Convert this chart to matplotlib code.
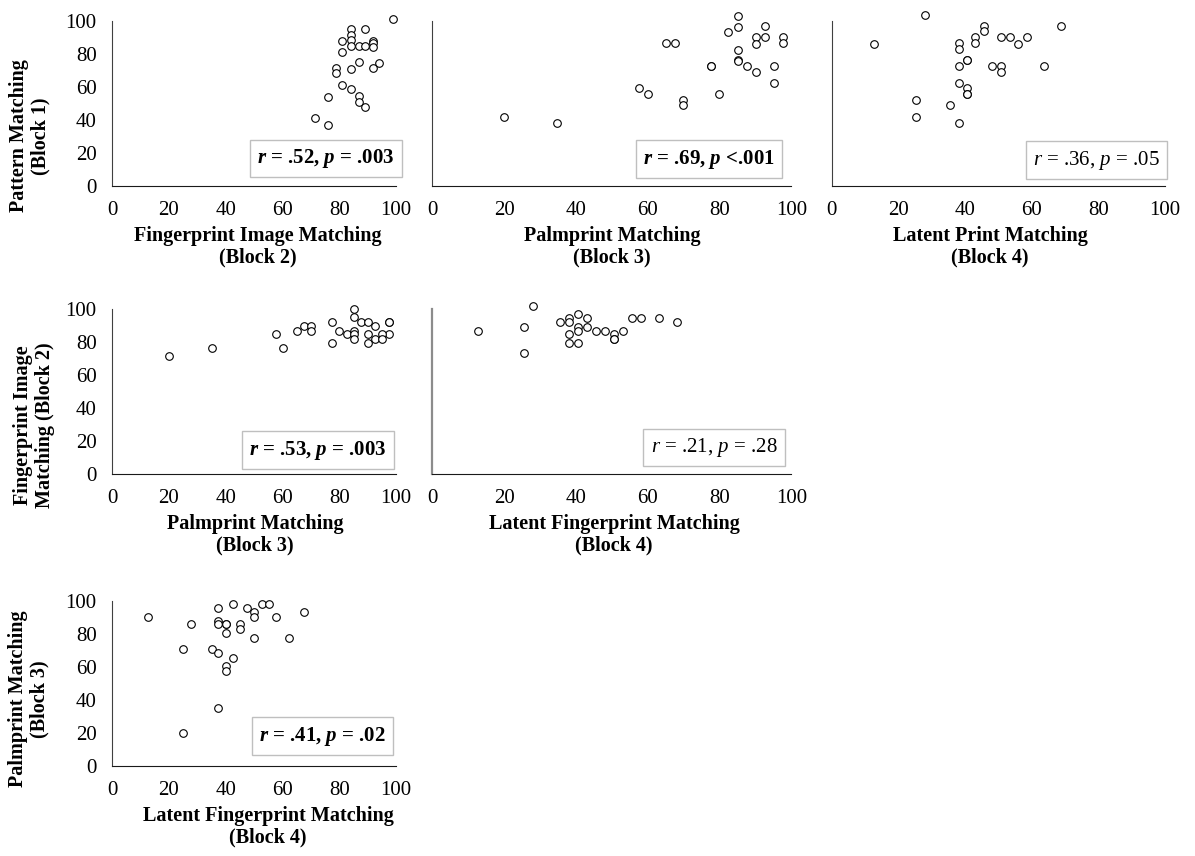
import matplotlib
matplotlib.use("Agg")
import matplotlib.pyplot as plt

plt.rcParams['font.family'] = ['Liberation Serif', 'DejaVu Serif']
plt.rcParams['mathtext.fontset'] = 'custom'
plt.rcParams['mathtext.rm'] = 'Liberation Serif'
plt.rcParams['mathtext.it'] = 'Liberation Serif:italic'
plt.rcParams['mathtext.bf'] = 'Liberation Serif:bold'
plt.rcParams['mathtext.bfit'] = 'Liberation Serif:bold:italic'

# panel 1: fingerprint (block 2) vs pattern (block 1)
p1_x = [99, 84, 89, 84, 81, 84, 92, 92, 84, 87, 89, 92, 81, 87, 94, 92, 84, 79, 79, 81, 84, 87, 76, 87, 89, 71.5, 76]
p1_y = [100.7, 94.7, 94.7, 91.2, 87.8, 88.2, 87.8, 86.2, 84.6, 84.6, 84.6, 84.2, 81.1, 74.7, 74.1, 71.1, 70.7, 71.1,
        68.1, 61.0, 58.6, 54.6, 54.0, 50.9, 47.6, 40.9, 36.9]

# panel 2: palmprint (block 3) vs pattern (block 1)
p2_x = [85.2, 85.2, 92.6, 82.4, 90.1, 92.6, 97.5, 97.5, 90.1, 65.0, 67.5, 85.2, 85.2, 85.2, 77.5, 77.5, 87.5, 90.1,
        95.2, 95.2, 57.4, 59.9, 79.9, 69.9, 69.9, 19.9, 34.8]
p2_y = [103.0, 95.9, 96.7, 92.9, 89.8, 89.8, 89.8, 86.2, 85.6, 86.2, 86.2, 82.2, 76.1, 75.5, 72.5, 72.5, 72.5, 68.7,
        72.5, 62.4, 59.0, 55.4, 55.4, 52.0, 48.9, 41.5, 37.9]

# panel 3: latent print (block 4) vs pattern (block 1)
p3_x = [27.9, 68.8, 45.7, 45.7, 43.1, 43.1, 50.8, 53.4, 58.6, 55.9, 12.6, 38.1, 38.1, 40.7, 40.7, 38.1, 48.2, 50.8,
        50.8, 63.8, 38.1, 40.7, 40.7, 40.7, 25.2, 35.6, 25.2, 38.1]
p3_y = [103.3, 96.7, 96.7, 93.9, 89.8, 86.2, 89.8, 89.8, 89.8, 85.6, 85.6, 86.2, 82.6, 76.1, 76.1, 72.5, 72.5, 72.5,
        68.7, 72.5, 62.4, 59.0, 55.4, 55.4, 52.0, 48.9, 41.5, 37.9]

# panel 4: palmprint (block 3) vs fingerprint (block 2)
p4_x = [85.2, 85.2, 77.4, 87.6, 90.0, 92.6, 97.6, 97.6, 97.6, 67.6, 70.1, 70.1, 65.0, 80.0, 82.6, 85.2, 85.2, 85.2,
        90.0, 90.0, 92.6, 95.2, 95.2, 77.4, 57.6, 60.1, 35.3, 20.1]
p4_y = [99.8, 95.0, 92.3, 92.3, 92.3, 89.7, 92.3, 92.3, 84.7, 89.7, 89.7, 86.8, 86.8, 86.8, 84.7, 86.8, 84.7, 81.8,
        84.7, 79.6, 81.8, 84.7, 81.8, 79.6, 84.7, 76.5, 76.5, 71.7]

# panel 5: latent fingerprint (block 4) vs fingerprint (block 2)
p5_x = [28.1, 12.8, 25.6, 25.6, 35.5, 38.1, 38.1, 40.6, 43.0, 40.6, 40.6, 43.0, 45.5, 48.1, 38.1, 38.1, 40.6, 50.6,
        50.6, 50.6, 53.1, 55.6, 58.1, 63.1, 68.0]
p5_y = [102.0, 86.7, 89.3, 73.5, 91.9, 94.4, 91.9, 96.8, 94.4, 89.3, 86.7, 89.3, 86.7, 86.7, 84.7, 79.2, 79.2, 84.7,
        81.6, 81.6, 86.7, 94.4, 94.4, 94.4, 91.9]

# panel 6: latent fingerprint (block 4) vs palmprint (block 3)
p6_x = [42.5, 52.7, 55.3, 37.4, 47.4, 50.1, 50.1, 67.6, 12.6, 57.6, 27.7, 37.4, 37.4, 40.0, 40.0, 45.1, 45.1, 40.0,
        50.1, 62.4, 25.1, 35.1, 37.4, 42.5, 40.0, 40.0, 37.4, 25.1]
p6_y = [97.9, 97.9, 97.9, 95.3, 95.3, 93.2, 90.2, 93.2, 90.2, 90.2, 85.6, 87.8, 85.6, 85.6, 85.6, 85.6, 82.8, 80.5,
        77.5, 77.5, 70.5, 70.5, 68.1, 65.1, 60.4, 57.6, 35.2, 20.1]

stats = [
    (r'$\mathbfit{r}$ = .52, $\mathbfit{p}$ = .003', True),
    (r'$\mathbfit{r}$ = .69, $\mathbfit{p}$ <.001', True),
    (r'$\mathit{r}$ = .36, $\mathit{p}$ = .05', False),
    (r'$\mathbfit{r}$ = .53, $\mathbfit{p}$ = .003', True),
    (r'$\mathit{r}$ = .21, $\mathit{p}$ = .28', False),
    (r'$\mathbfit{r}$ = .41, $\mathbfit{p}$ = .02', True),
]

x_titles = ["Fingerprint Image Matching\n(Block 2)", "Palmprint Matching\n(Block 3)", "Latent Print Matching\n(Block 4)",
            "Palmprint Matching\n(Block 3)", "Latent Fingerprint Matching\n(Block 4)",
            "Latent Fingerprint Matching\n(Block 4)"]
y_titles = ["Pattern Matching\n(Block 1)", "Fingerprint Image\nMatching (Block 2)", "Palmprint Matching\n(Block 3)"]

W, H = 1195, 856
fig = plt.figure(figsize=(W / 100, H / 100), dpi=100)

# pixel boxes: (left, right, bottom)
cols = [(112, 396), (432.5, 791.5), (831.7, 1165)]
rows = [(186, 20.5), (474, 309), (766, 600.5)]
panels = [(0, 0), (0, 1), (0, 2), (1, 0), (1, 1), (2, 0)]
data = [(p1_x, p1_y), (p2_x, p2_y), (p3_x, p3_y), (p4_x, p4_y), (p5_x, p5_y), (p6_x, p6_y)]
box_pos = [(0.754, 0.166), (0.770, 0.163), (0.795, 0.157), (0.725, 0.145), (0.784, 0.161), (0.741, 0.181)]
xlab_cx = [258, 612, 990, 255, 614, 268]
ylab_pos = [(30, 136), (34, 425), (29, 699)]

for i, (r, c) in enumerate(panels):
    l, rr = cols[c]
    b, t = rows[r]
    ax = fig.add_axes([l / W, 1 - b / H, (rr - l) / W, (b - t) / H])
    x, y = data[i]
    ax.scatter(x, y, s=30, facecolors='white', edgecolors='black', linewidths=0.8, clip_on=False, zorder=3)
    ax.set_xlim(0, 100)
    ax.set_ylim(0, 100)
    ax.set_xticks(range(0, 101, 20))
    ax.set_yticks(range(0, 101, 20))
    ax.tick_params(length=0, labelsize=15, pad=11)
    if c != 0:
        ax.set_yticklabels([])
    for s in ['top', 'right']:
        ax.spines[s].set_visible(False)
    ax.spines['bottom'].set_color('#1a1a1a')
    ax.spines['left'].set_color('#404040')
    if i == 4:
        ax.spines['left'].set_color('#8c8c8c')
        ax.spines['left'].set_linewidth(1.6)
    ax.set_facecolor('none')
    txt, bold = stats[i]
    ax.text(box_pos[i][0], box_pos[i][1], txt, transform=ax.transAxes, ha='center', va='center',
            fontsize=15, fontweight='bold' if bold else 'normal',
            bbox=dict(boxstyle='square,pad=0.35', facecolor='white', edgecolor='#bfbfbf', linewidth=1), zorder=4)
    fig.text(xlab_cx[i] / W, 1 - (b + 61) / H, x_titles[i], ha='center', va='center', fontsize=14.5,
             fontweight='bold', linespacing=1.1)

for (px, py), lab in zip(ylab_pos, y_titles):
    fig.text(px / W, 1 - py / H, lab, rotation=90, ha='center', va='center', fontsize=14.5,
             fontweight='bold', linespacing=1.1, multialignment='center')

fig.savefig('out.png', dpi=100)
